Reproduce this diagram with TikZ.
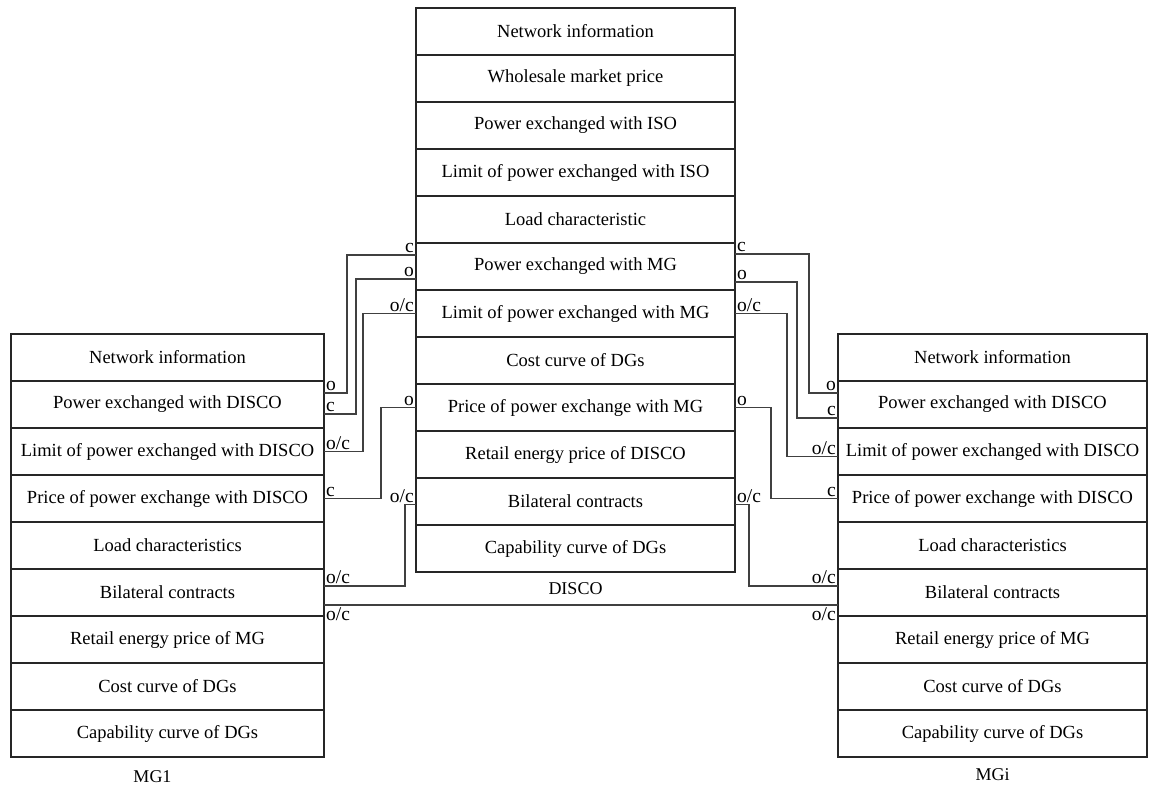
\documentclass[tikz,border=0pt]{standalone}
\usepackage{fontspec}
\setmainfont{Liberation Serif}
\usetikzlibrary{positioning,calc}
\begin{document}
\begin{tikzpicture}[x=1pt,y=-1pt,
  cell/.style={draw=black!85, line width=1.5pt, inner sep=0pt, outer sep=0pt,
    minimum height=47, font=\fontsize{18.5}{22}\selectfont},
  dcell/.style={cell, minimum width=319},
  mcell/.style={cell, minimum width=313},
  rcell/.style={cell, minimum width=309},
  wire/.style={draw=black!75, line width=1.6pt},
  lab/.style={inner sep=2pt, font=\fontsize{19.5}{21}\selectfont},
  title/.style={inner sep=0pt, font=\fontsize{18}{20}\selectfont}]
\useasboundingbox (0,0) rectangle (1151,789);

% DISCO table
\node[dcell, anchor=north west] (d1) at (416,8) {Network information};
\node[dcell, below=0pt of d1] (d2) {Wholesale market price};
\node[dcell, below=0pt of d2] (d3) {Power exchanged with ISO};
\node[dcell, below=0pt of d3] (d4) {Limit of power exchanged with ISO};
\node[dcell, below=0pt of d4] (d5) {Load characteristic};
\node[dcell, below=0pt of d5] (d6) {Power exchanged with MG};
\node[dcell, below=0pt of d6] (d7) {Limit of power exchanged with MG};
\node[dcell, below=0pt of d7] (d8) {Cost curve of DGs};
\node[dcell, below=0pt of d8] (d9) {Price of power exchange with MG};
\node[dcell, below=0pt of d9] (d10) {Retail energy price of DISCO};
\node[dcell, below=0pt of d10] (d11) {Bilateral contracts};
\node[dcell, below=0pt of d11] (d12) {Capability curve of DGs};
\node[title] (tdisco) at ($(d12.south)+(0,17)$) {DISCO};

% MG1 table
\node[mcell, anchor=north west] (a1) at (11,334) {Network information};
\node[mcell, below=0pt of a1] (a2) {Power exchanged with DISCO};
\node[mcell, below=0pt of a2] (a3) {Limit of power exchanged with DISCO};
\node[mcell, below=0pt of a3] (a4) {Price of power exchange with DISCO};
\node[mcell, below=0pt of a4] (a5) {Load characteristics};
\node[mcell, below=0pt of a5] (a6) {Bilateral contracts};
\node[mcell, below=0pt of a6] (a7) {Retail energy price of MG};
\node[mcell, below=0pt of a7] (a8) {Cost curve of DGs};
\node[mcell, below=0pt of a8] (a9) {Capability curve of DGs};
\node[title] (tmg1) at ($(a9.south)+(-15,20)$) {MG1};

% MGi table
\node[rcell, anchor=north west] (b1) at (838,334) {Network information};
\node[rcell, below=0pt of b1] (b2) {Power exchanged with DISCO};
\node[rcell, below=0pt of b2] (b3) {Limit of power exchanged with DISCO};
\node[rcell, below=0pt of b3] (b4) {Price of power exchange with DISCO};
\node[rcell, below=0pt of b4] (b5) {Load characteristics};
\node[rcell, below=0pt of b5] (b6) {Bilateral contracts};
\node[rcell, below=0pt of b6] (b7) {Retail energy price of MG};
\node[rcell, below=0pt of b7] (b8) {Cost curve of DGs};
\node[rcell, below=0pt of b8] (b9) {Capability curve of DGs};
\node[title] (tmgi) at ($(b9.south)+(0,18)$) {MGi};

% connector end points: DISCO side (s) and MG side (e)
\coordinate (l1s) at ($(d6.north west)+(0,12)$);
\coordinate (l1e) at ($(a2.north east)+(0,12)$);
\coordinate (l2s) at ($(d6.north west)+(0,36)$);
\coordinate (l2e) at ($(a2.north east)+(0,33)$);
\coordinate (l3s) at (d7.west);
\coordinate (l3e) at (a3.east);
\coordinate (l4s) at (d9.west);
\coordinate (l4e) at (a4.east);
\coordinate (l5s) at ($(d11.west)+(0,3)$);
\coordinate (l5e) at ($(a6.north east)+(0,17)$);

\coordinate (r1s) at ($(d6.north east)+(0,11)$);
\coordinate (r1e) at ($(b2.north west)+(0,12)$);
\coordinate (r2s) at ($(d6.north east)+(0,39)$);
\coordinate (r2e) at ($(b2.north west)+(0,37)$);
\coordinate (r3s) at (d7.east);
\coordinate (r3e) at ($(b3.west)+(0,5)$);
\coordinate (r4s) at (d9.east);
\coordinate (r4e) at (b4.west);
\coordinate (r5s) at ($(d11.east)+(0,3)$);
\coordinate (r5e) at ($(b6.north west)+(0,17)$);

\coordinate (ms) at ($(a6.north east)+(0,36)$);
\coordinate (me) at ($(b6.north west)+(0,36)$);

% left connectors
\draw[wire] (l1s) -| ($(l1e)+(23,0)$) -- (l1e);
\draw[wire] (l2s) -| ($(l2e)+(32,0)$) -- (l2e);
\draw[wire] (l3s) -| ($(l3e)+(39,0)$) -- (l3e);
\draw[wire] (l4s) -| ($(l4e)+(57,0)$) -- (l4e);
\draw[wire] (l5s) -| ($(l5e)+(81,0)$) -- (l5e);

% right connectors
\draw[wire] (r1s) -| ($(r1e)+(-29,0)$) -- (r1e);
\draw[wire] (r2s) -| ($(r2e)+(-41,0)$) -- (r2e);
\draw[wire] (r3s) -| ($(r3e)+(-51,0)$) -- (r3e);
\draw[wire] (r4s) -| ($(r4e)+(-67,0)$) -- (r4e);
\draw[wire] (r5s) -| ($(r5e)+(-89,0)$) -- (r5e);

% MG1 to MGi
\draw[wire] (ms) -- (me);

% labels at the DISCO side
\node[lab, anchor=south east] at (l1s) {c};
\node[lab, anchor=south east] at (l2s) {o};
\node[lab, anchor=south east] at (l3s) {o/c};
\node[lab, anchor=south east] at (l4s) {o};
\node[lab, anchor=south east] at (l5s) {o/c};
\node[lab, anchor=south west] at (r1s) {c};
\node[lab, anchor=south west] at (r2s) {o};
\node[lab, anchor=south west] at (r3s) {o/c};
\node[lab, anchor=south west] at (r4s) {o};
\node[lab, anchor=south west] at (r5s) {o/c};

% labels at the MG side
\node[lab, anchor=south west] at (l1e) {o};
\node[lab, anchor=south west] at (l2e) {c};
\node[lab, anchor=south west] at (l3e) {o/c};
\node[lab, anchor=south west] at (l4e) {c};
\node[lab, anchor=south west] at (l5e) {o/c};
\node[lab, anchor=north west] at (ms) {o/c};
\node[lab, anchor=south east] at (r1e) {o};
\node[lab, anchor=south east] at (r2e) {c};
\node[lab, anchor=south east] at (r3e) {o/c};
\node[lab, anchor=south east] at (r4e) {c};
\node[lab, anchor=south east] at (r5e) {o/c};
\node[lab, anchor=north east] at (me) {o/c};
\end{tikzpicture}
\end{document}
